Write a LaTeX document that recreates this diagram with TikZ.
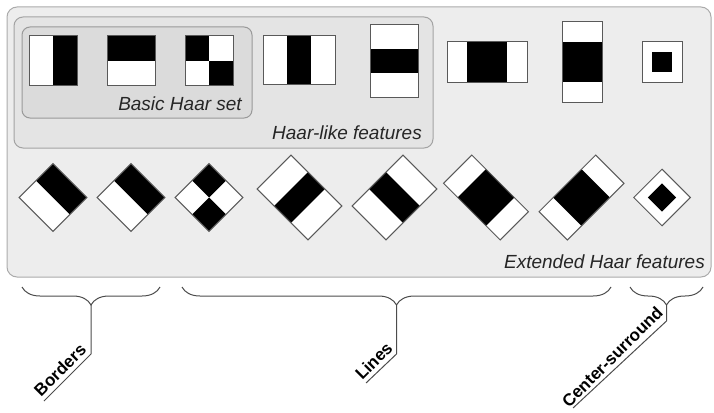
\documentclass[tikz,border=0pt]{standalone}
\usepackage{fontspec}
\setmainfont{Liberation Sans}
\usetikzlibrary{decorations.pathreplacing}
\begin{document}
\begin{tikzpicture}[x=1pt,y=-1pt,
  outerbox/.style={draw=black!33, fill=black!7, line width=1pt, rounded corners=10pt},
  likebox/.style={draw=black!36, fill=black!10.5, line width=1pt, rounded corners=9pt},
  basicbox/.style={draw=black!40, fill=black!14, line width=1pt, rounded corners=8pt},
  frame/.style={draw=black!65, line width=1pt},
  blk/.style={fill=black},
  wht/.style={fill=white},
  setlabel/.style={font=\fontsize{19}{22}\selectfont\itshape, text=black!85, inner sep=0pt, anchor=base east},
  grouplabel/.style={font=\fontsize{17}{20}\selectfont\bfseries, inner sep=4pt, anchor=south, rotate=45},
  bracket/.style={draw=black!70, line width=1pt, decorate, decoration={brace, amplitude=18pt}},
  leader/.style={draw=black!70, line width=1pt},
]
\useasboundingbox (0,0) rectangle (714,412);

% --- group boxes
\path[outerbox] (7,7) rectangle (711,277);
\path[likebox] (14,17) rectangle (433,148);
\path[basicbox] (22,27) rectangle (252,118);

% --- row 1: upright features
% S1
\fill[wht] (29,36) rectangle (77,85);
\fill[blk] (53,36) rectangle (77,85);
\draw[frame] (29,36) rectangle (77,85);
% S2
\fill[wht] (107,36) rectangle (155,85);
\fill[blk] (107,36) rectangle (155,61);
\draw[frame] (107,36) rectangle (155,85);
% S3
\fill[wht] (185,36) rectangle (233,85);
\fill[blk] (185,36) rectangle (209,61);
\fill[blk] (209,61) rectangle (233,85);
\draw[frame] (185,36) rectangle (233,85);
% S4
\fill[wht] (263,36) rectangle (335,84);
\fill[blk] (287,36) rectangle (311,84);
\draw[frame] (263,36) rectangle (335,84);
% S5
\fill[wht] (370,25) rectangle (418,97);
\fill[blk] (370,49) rectangle (418,73);
\draw[frame] (370,25) rectangle (418,97);
% S6
\fill[wht] (447,42) rectangle (527,82);
\fill[blk] (467,42) rectangle (507,82);
\draw[frame] (447,42) rectangle (527,82);
% S7
\fill[wht] (562,22) rectangle (602,102);
\fill[blk] (562,42) rectangle (602,82);
\draw[frame] (562,22) rectangle (602,102);
% S8
\fill[wht] (642,42) rectangle (682,82);
\fill[blk] (652,52) rectangle (672,72);
\draw[frame] (642,42) rectangle (682,82);

% --- row 2: rotated features
\begin{scope}[shift={(53,197.5)}, rotate=45]
  \fill[wht] (-24,-24) rectangle (24,24);
  \fill[blk] (0,-24) rectangle (24,24);
  \draw[frame] (-24,-24) rectangle (24,24);
\end{scope}
\begin{scope}[shift={(131,197.5)}, rotate=-45]
  \fill[wht] (-24,-24) rectangle (24,24);
  \fill[blk] (-24,-24) rectangle (24,0);
  \draw[frame] (-24,-24) rectangle (24,24);
\end{scope}
\begin{scope}[shift={(209,197.5)}, rotate=-45]
  \fill[wht] (-24,-24) rectangle (24,24);
  \fill[blk] (-24,-24) rectangle (0,0);
  \fill[blk] (0,0) rectangle (24,24);
  \draw[frame] (-24,-24) rectangle (24,24);
\end{scope}
\begin{scope}[shift={(299.5,197.5)}, rotate=-45]
  \fill[wht] (-36,-24) rectangle (36,24);
  \fill[blk] (-12,-24) rectangle (12,24);
  \draw[frame] (-36,-24) rectangle (36,24);
\end{scope}
\begin{scope}[shift={(394.5,197.5)}, rotate=45]
  \fill[wht] (-36,-24) rectangle (36,24);
  \fill[blk] (-12,-24) rectangle (12,24);
  \draw[frame] (-36,-24) rectangle (36,24);
\end{scope}
\begin{scope}[shift={(486,197.5)}, rotate=-45]
  \fill[wht] (-40,-20) rectangle (40,20);
  \fill[blk] (-20,-20) rectangle (20,20);
  \draw[frame] (-40,-20) rectangle (40,20);
\end{scope}
\begin{scope}[shift={(581.5,197.5)}, rotate=45]
  \fill[wht] (-40,-20) rectangle (40,20);
  \fill[blk] (-20,-20) rectangle (20,20);
  \draw[frame] (-40,-20) rectangle (40,20);
\end{scope}
\begin{scope}[shift={(662,197.5)}, rotate=45]
  \fill[wht] (-20,-20) rectangle (20,20);
  \fill[blk] (-10,-10) rectangle (10,10);
  \draw[frame] (-20,-20) rectangle (20,20);
\end{scope}

% --- set labels
\node[setlabel] (basic) at (242,110) {Basic Haar set};
\node[setlabel] (haarlike) at (422,139) {Haar-like features};
\node[setlabel] (extended) at (705,268) {Extended Haar features};

% --- braces and group labels
\coordinate (bR) at (160,287); \coordinate (bL) at (22,287);
\coordinate (bTip) at (91,305); \coordinate (bKnee) at (91,354); \coordinate (bEnd) at (44,401);
\coordinate (lR) at (611,287); \coordinate (lL) at (182,287);
\coordinate (lTip) at (396.5,305); \coordinate (lKnee) at (396.5,354); \coordinate (lEnd) at (366,383);
\coordinate (cR) at (703,287); \coordinate (cL) at (630,287);
\coordinate (cTip) at (666.5,305); \coordinate (cKnee) at (666.5,321); \coordinate (cEnd) at (573,408);

\draw[bracket] (bR) -- (bL);
\draw[bracket] (lR) -- (lL);
\draw[bracket] (cR) -- (cL);

\draw[leader] (bTip) -- (bKnee) -- node[grouplabel] (borders) {Borders} (bEnd);
\draw[leader] (lTip) -- (lKnee) -- node[grouplabel] (lines) {Lines} (lEnd);
\draw[leader] (cTip) -- (cKnee) -- node[grouplabel] (center) {Center-surround} (cEnd);
\end{tikzpicture}
\end{document}
